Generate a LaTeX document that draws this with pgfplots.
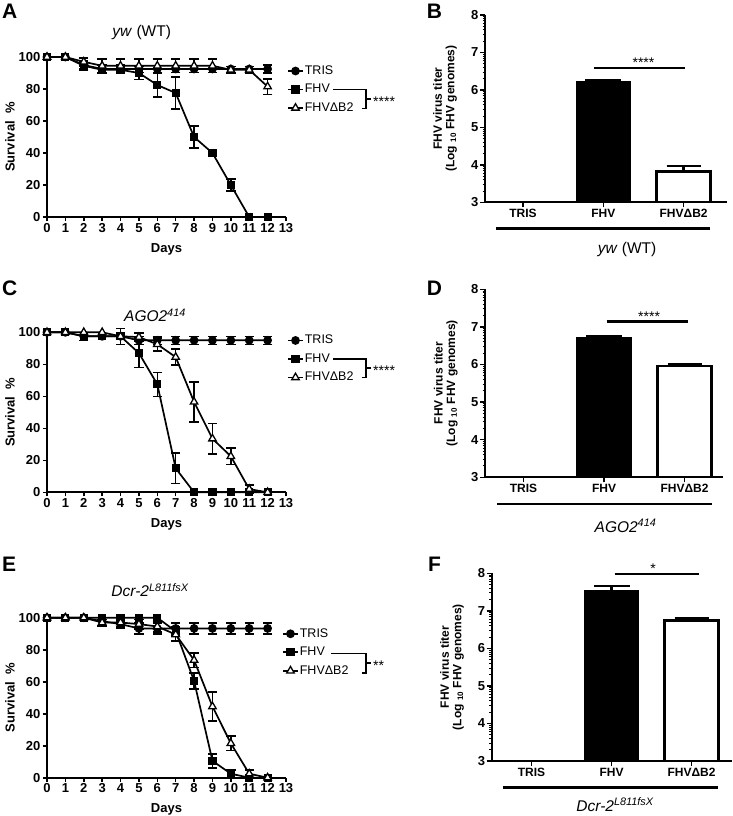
\documentclass[border=0pt]{standalone}
\usepackage{fontspec}
\setmainfont{Liberation Sans}
\usepackage{pgfplots}
\pgfplotsset{compat=1.18}
\pgfplotsset{
  surv/.style={
    scale only axis, width=239pt, height=160pt, anchor=south west,
    xmin=0, xmax=13, ymin=0, ymax=100,
    axis x line*=bottom, axis y line*=left,
    axis line style={line width=1.9pt},
    xtick={0,...,13}, ytick={0,20,...,100},
    tick align=outside, major tick length=4pt,
    tick style={black, line width=1.6pt},
    /pgf/number format/assume math mode=true,
    tick label style={font=\bfseries\fontsize{13}{14}\selectfont},
    xticklabel style={inner sep=2pt},
    yticklabel style={inner sep=2.5pt},
    xlabel={Days}, ylabel={Survival\ \ \%},
    label style={font=\bfseries\fontsize{13}{15}\selectfont},
    xlabel style={at={(axis description cs:0.5,-0.219)}, anchor=base},
    ylabel style={at={(axis description cs:-0.155,0.5)}, anchor=center},
    clip=false,
    legend cell align=left,
    legend image code/.code={\draw[mark repeat=2,mark phase=2,##1] plot coordinates {(0pt,0pt)(7.5pt,0pt)(15pt,0pt)};},
    legend style={draw=none, fill=none, anchor=north west, inner sep=0pt, row sep=5pt,
      font=\fontsize{12.5}{13}\selectfont, nodes={inner sep=1pt, text height=9pt, text depth=2.5pt}},
  },
  tris/.style={black, line width=1.7pt, mark=*, mark size=3.5pt, mark options={solid}},
  fhv/.style={black, line width=1.7pt, mark=square*, mark size=3.2pt, mark options={solid}},
  db2/.style={black, line width=1.7pt, mark=triangle*, mark size=4.3pt, mark options={solid, fill=white, line width=1.3pt}},
  err/.style={forget plot, draw=none, mark=none,
    error bars/.cd, y dir=both, y explicit,
    error bar style={draw=black, line width=1.6pt},
    error mark options={rotate=90, draw=black, line width=1.6pt, mark size=4.7pt}},
  bars/.style={
    scale only axis, anchor=south west, ymin=3, ymax=8,
    axis x line*=bottom, axis y line*=left,
    axis line style={line width=1.9pt},
    xtick={0,1,2}, xticklabels={TRIS,FHV,FHVΔB2},
    ytick={3,...,8},
    minor ytick={3.301,3.477,3.602,3.699,3.778,3.845,3.903,3.954,4.301,4.477,4.602,4.699,4.778,4.845,4.903,4.954,5.301,5.477,5.602,5.699,5.778,5.845,5.903,5.954,6.301,6.477,6.602,6.699,6.778,6.845,6.903,6.954,7.301,7.477,7.602,7.699,7.778,7.845,7.903,7.954},
    tick align=outside, major tick length=5pt, minor tick length=2.5pt,
    major tick style={black, line width=1.5pt},
    minor tick style={black, line width=1pt},
    /pgf/number format/assume math mode=true,
    yticklabel style={font=\bfseries\fontsize{13}{14}\selectfont, inner sep=1.5pt},
    xticklabel style={font=\bfseries\fontsize{12}{13}\selectfont, inner sep=2pt},
    ylabel={FHV virus titer\\(Log \textsubscript{10} FHV genomes)},
    ylabel style={align=center, font=\bfseries\fontsize{12}{12.5}\selectfont, at={(axis description cs:-0.165,0.5)}, anchor=center},
    clip mode=individual,
  },
  trisbar/.style={ybar, bar width=54pt, bar shift=0pt, fill=white, draw=black, line width=1pt},
  fhvbar/.style={ybar, bar width=54pt, bar shift=0pt, fill=black, draw=black, line width=1.5pt,
    error bars/.cd, y dir=plus, y explicit, error bar style={line width=2.5pt},
    error mark options={rotate=90, line width=2.5pt, mark size=18pt}},
  dbbar/.style={ybar, bar width=54pt, bar shift=0pt, fill=white, draw=black, line width=2.5pt,
    error bars/.cd, y dir=plus, y explicit, error bar style={line width=2.5pt},
    error mark options={rotate=90, line width=2.5pt, mark size=17pt}},
}
\begin{document}
\begin{tikzpicture}
\useasboundingbox (0,0) rectangle (733pt,-816pt);

% ---------------- Panel A ----------------
\begin{axis}[surv, at={(47pt,-217pt)}, legend style={at={(1.004,0.956)}}]
\addplot[err] coordinates {(2,95) +- (0,2.5) (3,92.5) +- (0,2.5) (4,92.5) +- (0,2.5) (12,92.5) +- (0,2.5)};
\addplot[err] coordinates {(2,94.5) +- (0,2.5) (5,90) +- (0,4) (6,82.5) +- (0,7.5) (7,77.5) +- (0,10) (8,50) +- (0,7) (10,20) +- (0,3.8)};
\addplot[err] coordinates {(2,97) +- (0,2.5) (3,94.5) +- (0,4.3) (4,94.5) +- (0,4.3) (5,94.5) +- (0,4.3) (6,94.5) +- (0,4.3) (7,94.5) +- (0,4.3) (8,94.5) +- (0,4.3) (9,94.5) +- (0,4.3) (10,92) +- (0,2) (11,92) +- (0,2) (12,81.5) +- (0,4.9)};
\addplot[tris] coordinates {(0,100)(1,100)(2,95)(3,92.5)(4,92.5)(5,92.5)(6,92.5)(7,92.5)(8,92.5)(9,92.5)(10,92.5)(11,92.5)(12,92.5)};
\addlegendentry{TRIS}
\addplot[fhv] coordinates {(0,100)(1,100)(2,94.5)(3,92)(4,92)(5,90)(6,82.5)(7,77.5)(8,50)(9,40)(10,20)(11,0)(12,0)};
\addlegendentry{FHV}
\addplot[db2] coordinates {(0,100)(1,100)(2,97)(3,94.5)(4,94.5)(5,94.5)(6,94.5)(7,94.5)(8,94.5)(9,94.5)(10,92)(11,92)(12,81.5)};
\addlegendentry{FHVΔB2}
\end{axis}

% ---------------- Panel C ----------------
\begin{axis}[surv, at={(47pt,-492.3pt)}, legend style={at={(1.004,0.9925)}}]
\addplot[err] coordinates {(2,97.5) +- (0,2.5) (5,95) +- (0,2.5) (6,95) +- (0,2.5) (7,95) +- (0,2.5) (8,95) +- (0,2.5) (9,95) +- (0,2.5) (10,95) +- (0,2.5) (11,95) +- (0,2.5) (12,95) +- (0,2.5)};
\addplot[err] coordinates {(5,87) +- (0,9) (6,67.5) +- (0,7.5) (7,15) +- (0,9.5)};
\addplot[err] coordinates {(4,97.5) +- (0,5) (5,97) +- (0,2.5) (6,92.5) +- (0,4) (7,84.5) +- (0,5) (8,56.5) +- (0,12.4) (9,33.5) +- (0,9.6) (10,22.5) +- (0,5.2) (11,2) +- (0,2.5)};
\addplot[tris] coordinates {(0,100)(1,100)(2,97.5)(3,97.5)(4,97.5)(5,95)(6,95)(7,95)(8,95)(9,95)(10,95)(11,95)(12,95)};
\addlegendentry{TRIS}
\addplot[fhv] coordinates {(0,100)(1,100)(2,97.5)(3,97.5)(4,97.5)(5,87)(6,67.5)(7,15)(8,0)(9,0)(10,0)(11,0)(12,0)};
\addlegendentry{FHV}
\addplot[db2] coordinates {(0,100)(1,100)(2,100)(3,100)(4,97.5)(5,97)(6,92.5)(7,84.5)(8,56.5)(9,33.5)(10,22.5)(11,2)(12,0)};
\addlegendentry{FHVΔB2}
\end{axis}

% ---------------- Panel E ----------------
\begin{axis}[surv, at={(47pt,-777.7pt)}, legend style={at={(0.983,0.943)}}]
\addplot[err] coordinates {(4,96) +- (0,2.5) (5,93.3) +- (0,3.4) (6,93.3) +- (0,3.4) (7,93.3) +- (0,3.4) (8,93.3) +- (0,3.4) (9,93.3) +- (0,3.4) (10,93.3) +- (0,3.4) (11,93.3) +- (0,3.4) (12,93.3) +- (0,3.4)};
\addplot[err] coordinates {(7,91.5) +- (0,3) (8,60.5) +- (0,5) (9,10.5) +- (0,4.5) (10,2.5) +- (0,2.5)};
\addplot[err] coordinates {(3,97) +- (0,2) (4,97) +- (0,2.5) (5,96) +- (0,3) (6,94.5) +- (0,3.5) (7,89.5) +- (0,4) (8,73.5) +- (0,4.5) (9,44.5) +- (0,9) (10,21.5) +- (0,4.5) (11,2.5) +- (0,2.5)};
\addplot[tris] coordinates {(0,100)(1,100)(2,100)(3,97.8)(4,96)(5,93.3)(6,93.3)(7,93.3)(8,93.3)(9,93.3)(10,93.3)(11,93.3)(12,93.3)};
\addlegendentry{TRIS}
\addplot[fhv] coordinates {(0,100)(1,100)(2,100)(3,100)(4,100)(5,100)(6,100)(7,91.5)(8,60.5)(9,10.5)(10,2.5)(11,0)(12,0)};
\addlegendentry{FHV}
\addplot[db2] coordinates {(0,100)(1,100)(2,100)(3,97)(4,97)(5,96)(6,94.5)(7,89.5)(8,73.5)(9,44.5)(10,21.5)(11,2.5)(12,0)};
\addlegendentry{FHVΔB2}
\end{axis}

% ---------------- Panel B ----------------
\begin{axis}[bars, at={(485pt,-202.3pt)}, width=242pt, height=187.3pt, xmin=-0.473, xmax=2.54]
\addplot[trisbar] coordinates {(0,3.02)};
\addplot[fhvbar] coordinates {(1,6.21) +- (0,0.05)};
\addplot[dbbar] coordinates {(2,3.82) +- (0,0.15)};
\draw[line width=2.5pt] (axis cs:0.884,6.59) -- (axis cs:2.017,6.59);
\node[anchor=base, font=\fontsize{14}{14}\selectfont] at (axis cs:1.5,6.6) {****};
\end{axis}

% ---------------- Panel D ----------------
\begin{axis}[bars, at={(485pt,-477.3pt)}, width=238pt, height=188pt, xmin=-0.478, xmax=2.478]
\addplot[trisbar] coordinates {(0,3.02)};
\addplot[fhvbar] coordinates {(1,6.70) +- (0,0.06)};
\addplot[dbbar] coordinates {(2,5.96) +- (0,0.05)};
\draw[line width=2.5pt] (axis cs:1.037,7.14) -- (axis cs:2.043,7.14);
\node[anchor=base, font=\fontsize{14}{14}\selectfont] at (axis cs:1.56,7.15) {****};
\end{axis}

% ---------------- Panel F ----------------
\begin{axis}[bars, at={(491.7pt,-761pt)}, width=240pt, height=187.7pt, xmin=-0.4975, xmax=2.5025]
\addplot[trisbar] coordinates {(0,3.02)};
\addplot[fhvbar] coordinates {(1,7.53) +- (0,0.13)};
\addplot[dbbar] coordinates {(2,6.74) +- (0,0.05)};
\draw[line width=2.5pt] (axis cs:1.04,7.98) -- (axis cs:2.09,7.98);
\node[anchor=base, font=\fontsize{14}{14}\selectfont] at (axis cs:1.52,7.99) {*};
\end{axis}

% ---------------- annotations ----------------
\begin{scope}[font=\bfseries\fontsize{21}{21}\selectfont]
\node[anchor=base west, inner sep=0pt] at (2pt,-18.3pt) {A};
\node[anchor=base west, inner sep=0pt] at (426.7pt,-18.3pt) {B};
\node[anchor=base west, inner sep=0pt] at (2pt,-295pt) {C};
\node[anchor=base west, inner sep=0pt] at (426.7pt,-295.7pt) {D};
\node[anchor=base west, inner sep=0pt] at (2pt,-571.7pt) {E};
\node[anchor=base west, inner sep=0pt] at (428pt,-571.7pt) {F};
\end{scope}

\begin{scope}[font=\fontsize{15.5}{17}\selectfont]
\node[anchor=base, inner sep=0pt] at (141.7pt,-36.5pt) {\textit{yw} (WT)};
\node[anchor=base, inner sep=0pt] at (155pt,-321.7pt) {\textit{AGO2\textsuperscript{414}}};
\node[anchor=base, inner sep=0pt] at (150pt,-596.7pt) {\textit{Dcr-2\textsuperscript{L811fsX}}};
\node[anchor=base, inner sep=0pt] at (627pt,-253.3pt) {\textit{yw} (WT)};
\node[anchor=base, inner sep=0pt] at (625.5pt,-532pt) {\textit{AGO2\textsuperscript{414}}};
\node[anchor=base, inner sep=0pt] at (615pt,-811pt) {\textit{Dcr-2\textsuperscript{L811fsX}}};
\end{scope}

\draw[line width=2.5pt] (496pt,-228.7pt) -- (710pt,-228.7pt);
\draw[line width=2.5pt] (497pt,-504pt) -- (712pt,-504pt);
\draw[line width=2.5pt] (503pt,-787.7pt) -- (718pt,-787.7pt);

% brackets
\draw[line width=1.6pt] (333pt,-89.3pt) -- (366pt,-89.3pt) -- (366pt,-108.3pt) -- (362pt,-108.3pt);
\draw[line width=1.6pt] (366pt,-98.8pt) -- (371pt,-98.8pt);
\node[anchor=base west, inner sep=0pt, font=\fontsize{14}{14}\selectfont] at (373pt,-106.5pt) {****};
\draw[line width=1.6pt] (333pt,-359pt) -- (366pt,-359pt) -- (366pt,-377.3pt) -- (362pt,-377.3pt);
\draw[line width=1.6pt] (366pt,-368.2pt) -- (371pt,-368.2pt);
\node[anchor=base west, inner sep=0pt, font=\fontsize{14}{14}\selectfont] at (373pt,-375.9pt) {****};
\draw[line width=1.6pt] (331pt,-653.3pt) -- (366pt,-653.3pt) -- (366pt,-672.7pt) -- (362pt,-672.7pt);
\draw[line width=1.6pt] (366pt,-663pt) -- (371pt,-663pt);
\node[anchor=base west, inner sep=0pt, font=\fontsize{14}{14}\selectfont] at (373pt,-670.7pt) {**};
\end{tikzpicture}
\end{document}
